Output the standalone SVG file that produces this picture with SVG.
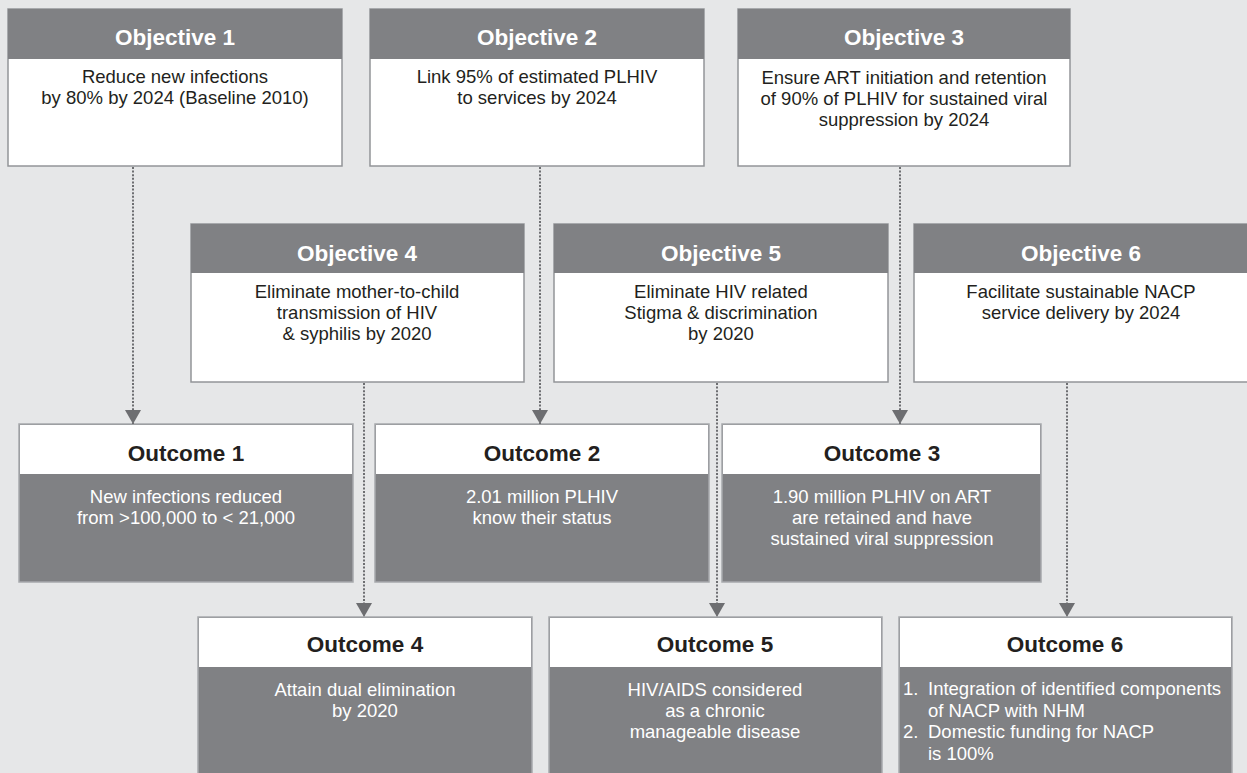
<svg xmlns="http://www.w3.org/2000/svg" width="1247" height="773" viewBox="0 0 1247 773">
<style>
.hd{fill:#808184;}
.bx{fill:#ffffff;stroke:#939598;stroke-width:1.5;}
.obx{fill:#808184;stroke:#a7a9ac;stroke-width:1.5;}
.oh{fill:#ffffff;}
.t{font-family:"Liberation Sans",Arial,Helvetica,sans-serif;text-anchor:middle;}
.ht{font-size:22.5px;font-weight:bold;fill:#ffffff;}
.bt{font-size:18.5px;fill:#231f20;}
.ot{font-size:22.5px;font-weight:bold;fill:#231f20;}
.wt{font-size:18.5px;fill:#ffffff;}
.lt{text-anchor:start;}
.c{stroke:#6d6e71;stroke-width:2;stroke-dasharray:2 1.6;fill:none;}
</style>
<defs>
<marker id="ah" markerWidth="14" markerHeight="16" refX="14" refY="8" orient="auto" markerUnits="userSpaceOnUse" viewBox="0 0 14 16">
<path d="M0,0 L14,8 L0,16 Z" fill="#6d6e71"/>
</marker>
</defs>
<rect width="1247" height="773" fill="#e6e7e8"/>

<g id="objective1">
<rect class="bx" x="8" y="9" width="334" height="157"/>
<rect class="hd" x="8" y="9" width="334" height="50"/>
<text class="t ht" x="175" y="45">Objective 1</text>
<text class="t bt" x="175" y="83">Reduce new infections</text>
<text class="t bt" x="175" y="104">by 80% by 2024 (Baseline 2010)</text>
</g>
<g id="objective2">
<rect class="bx" x="370" y="9" width="334" height="157"/>
<rect class="hd" x="370" y="9" width="334" height="50"/>
<text class="t ht" x="537" y="45">Objective 2</text>
<text class="t bt" x="537" y="83">Link 95% of estimated PLHIV</text>
<text class="t bt" x="537" y="104">to services by 2024</text>
</g>
<g id="objective3">
<rect class="bx" x="738" y="9" width="332" height="157"/>
<rect class="hd" x="738" y="9" width="332" height="50"/>
<text class="t ht" x="904" y="45">Objective 3</text>
<text class="t bt" x="904" y="84">Ensure ART initiation and retention</text>
<text class="t bt" x="904" y="105">of 90% of PLHIV for sustained viral</text>
<text class="t bt" x="904" y="126">suppression by 2024</text>
</g>
<g id="objective4">
<rect class="bx" x="191" y="224" width="333" height="158"/>
<rect class="hd" x="191" y="224" width="333" height="49"/>
<text class="t ht" x="357" y="261">Objective 4</text>
<text class="t bt" x="357" y="298">Eliminate mother-to-child</text>
<text class="t bt" x="357" y="319">transmission of HIV</text>
<text class="t bt" x="357" y="340">&amp; syphilis by 2020</text>
</g>
<g id="objective5">
<rect class="bx" x="554" y="224" width="334" height="158"/>
<rect class="hd" x="554" y="224" width="334" height="49"/>
<text class="t ht" x="721" y="261">Objective 5</text>
<text class="t bt" x="721" y="298">Eliminate HIV related</text>
<text class="t bt" x="721" y="319">Stigma &amp; discrimination</text>
<text class="t bt" x="721" y="340">by 2020</text>
</g>
<g id="objective6">
<rect class="bx" x="914" y="224" width="340" height="158"/>
<rect class="hd" x="914" y="224" width="340" height="49"/>
<text class="t ht" x="1081" y="261">Objective 6</text>
<text class="t bt" x="1081" y="298">Facilitate sustainable NACP</text>
<text class="t bt" x="1081" y="319">service delivery by 2024</text>
</g>

<g id="outcome1">
<rect class="obx" x="19" y="424" width="334" height="158"/>
<rect class="oh" x="20" y="425" width="332" height="49"/>
<text class="t ot" x="186" y="461">Outcome 1</text>
<text class="t wt" x="186" y="503">New infections reduced</text>
<text class="t wt" x="186" y="524">from &gt;100,000 to &lt; 21,000</text>
</g>
<g id="outcome2">
<rect class="obx" x="375" y="424" width="334" height="158"/>
<rect class="oh" x="376" y="425" width="332" height="49"/>
<text class="t ot" x="542" y="461">Outcome 2</text>
<text class="t wt" x="542" y="503">2.01 million PLHIV</text>
<text class="t wt" x="542" y="524">know their status</text>
</g>
<g id="outcome3">
<rect class="obx" x="722" y="424" width="319" height="158"/>
<rect class="oh" x="723" y="425" width="317" height="49"/>
<text class="t ot" x="882" y="461">Outcome 3</text>
<text class="t wt" x="882" y="503">1.90 million PLHIV on ART</text>
<text class="t wt" x="882" y="524">are retained and have</text>
<text class="t wt" x="882" y="545">sustained viral suppression</text>
</g>
<g id="outcome4">
<rect class="obx" x="198" y="617" width="334" height="170"/>
<rect class="oh" x="199" y="618" width="332" height="49"/>
<text class="t ot" x="365" y="652">Outcome 4</text>
<text class="t wt" x="365" y="696">Attain dual elimination</text>
<text class="t wt" x="365" y="717">by 2020</text>
</g>
<g id="outcome5">
<rect class="obx" x="549" y="617" width="333" height="170"/>
<rect class="oh" x="550" y="618" width="331" height="49"/>
<text class="t ot" x="715" y="652">Outcome 5</text>
<text class="t wt" x="715" y="696">HIV/AIDS considered</text>
<text class="t wt" x="715" y="717">as a chronic</text>
<text class="t wt" x="715" y="738">manageable disease</text>
</g>
<g id="outcome6">
<rect class="obx" x="899" y="617" width="333" height="170"/>
<rect class="oh" x="900" y="618" width="331" height="49"/>
<text class="t ot" x="1065" y="652">Outcome 6</text>
<text class="t wt lt" x="903" y="695">1.</text>
<text class="t wt lt" x="928" y="695">Integration of identified components</text>
<text class="t wt lt" x="928" y="717">of NACP with NHM</text>
<text class="t wt lt" x="903" y="738">2.</text>
<text class="t wt lt" x="928" y="738">Domestic funding for NACP</text>
<text class="t wt lt" x="928" y="760">is 100%</text>
</g>

<g id="connectors">
<path class="c" d="M133,167 V424" marker-end="url(#ah)"/>
<path class="c" d="M540,167 V424" marker-end="url(#ah)"/>
<path class="c" d="M900,167 V424" marker-end="url(#ah)"/>
<path class="c" d="M364,383 V617" marker-end="url(#ah)"/>
<path class="c" d="M717,383 V617" marker-end="url(#ah)"/>
<path class="c" d="M1067,383 V617" marker-end="url(#ah)"/>
</g>
</svg>
